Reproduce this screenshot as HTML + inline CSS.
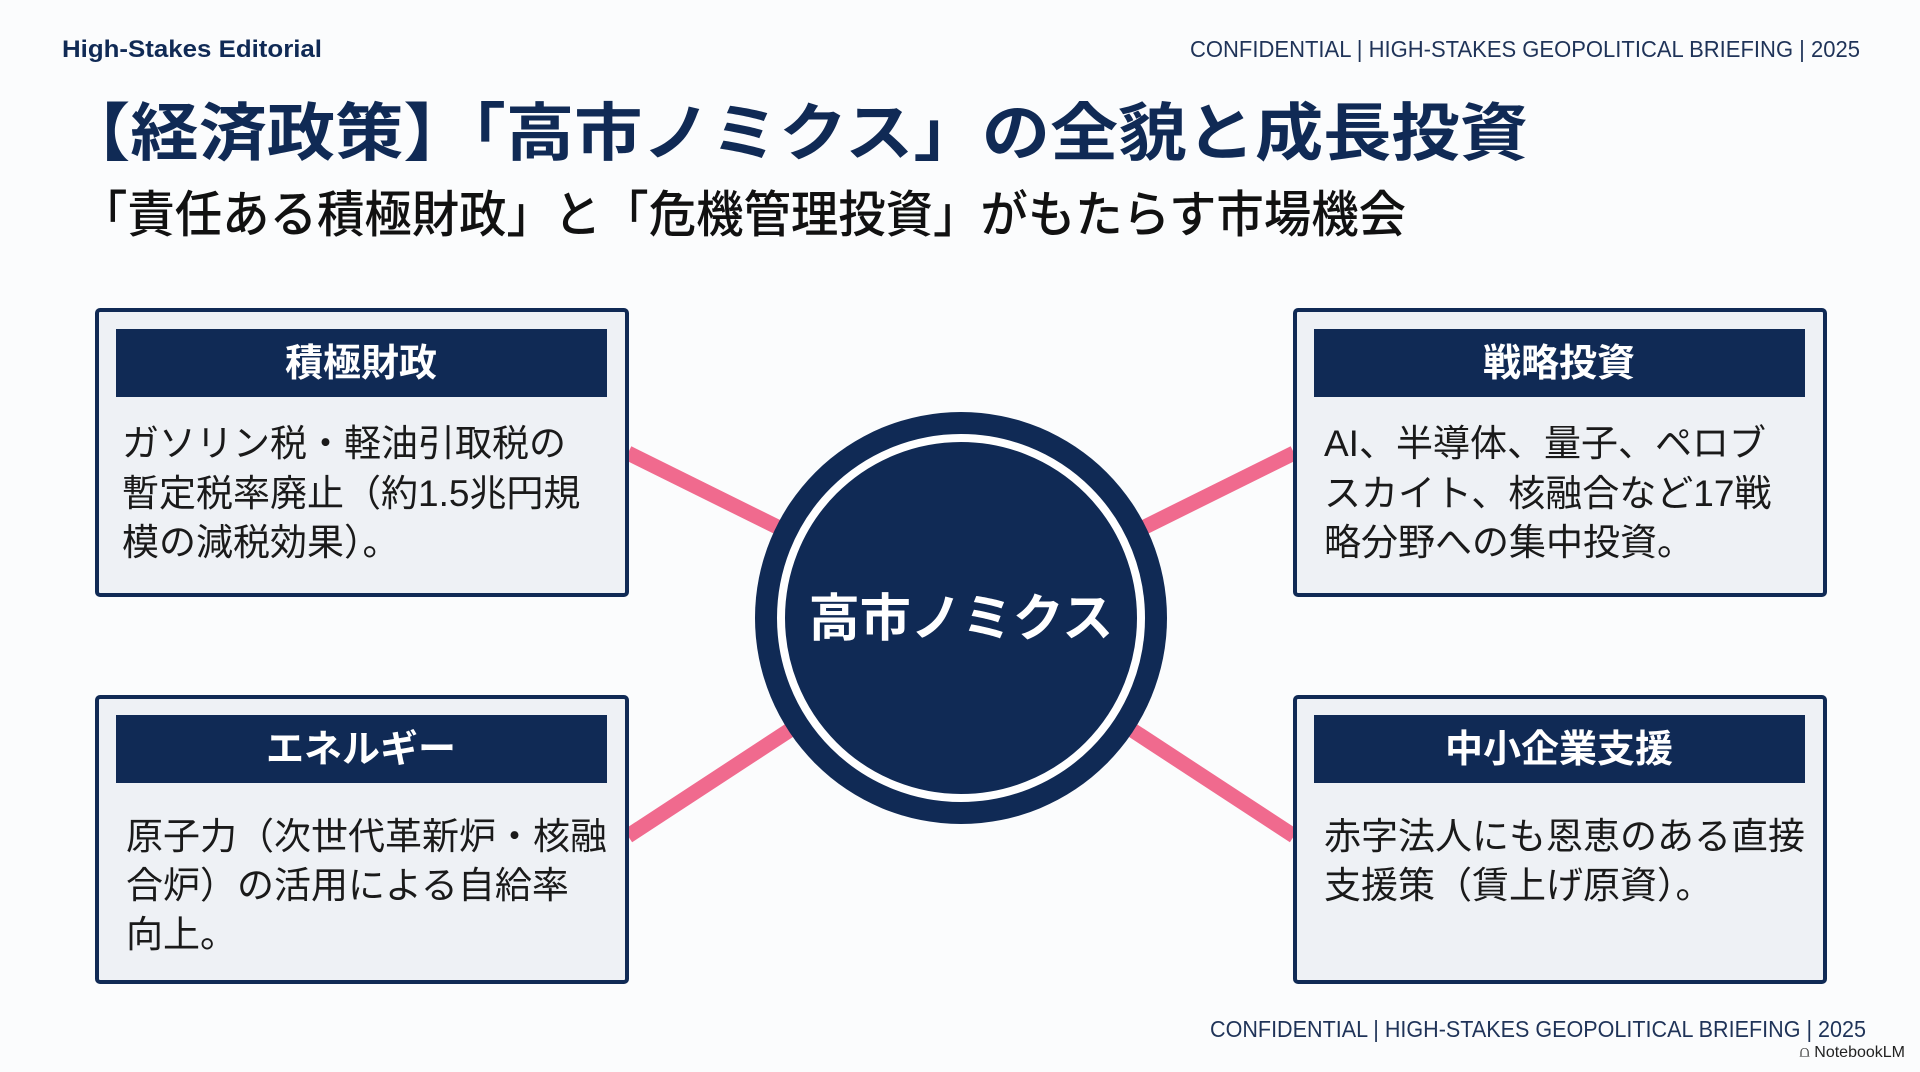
<!DOCTYPE html>
<html><head><meta charset="utf-8"><style>
html,body{margin:0;padding:0;background:#fbfcfd;}
svg{display:block;}
text{font-family:"Liberation Sans","Noto Sans CJK JP",sans-serif;}
</style></head><body>
<svg width="1920" height="1072" viewBox="0 0 1920 1072" xmlns="http://www.w3.org/2000/svg">
<rect width="1920" height="1072" fill="#fbfcfd"/>
<text x="62" y="57" font-size="24" font-weight="bold" fill="#102a55" textLength="260" lengthAdjust="spacingAndGlyphs">High-Stakes Editorial</text>
<text x="1190" y="57" font-size="23" fill="#1f3358" textLength="670" lengthAdjust="spacingAndGlyphs">CONFIDENTIAL | HIGH-STAKES GEOPOLITICAL BRIEFING | 2025</text>
<text x="62" y="155" font-size="63" font-weight="bold" fill="#102a55" textLength="1466" lengthAdjust="spacingAndGlyphs">【経済政策】「高市ノミクス」の全貌と成長投資</text>
<text x="80" y="232" font-size="50" font-weight="500" fill="#111" textLength="1326" lengthAdjust="spacingAndGlyphs">「責任ある積極財政」と「危機管理投資」がもたらす市場機会</text>

<g stroke="#f06a8e" stroke-width="15" stroke-linecap="butt">
<line x1="628" y1="453" x2="961" y2="618"/>
<line x1="1294" y1="453" x2="961" y2="618"/>
<line x1="628" y1="836" x2="961" y2="618"/>
<line x1="1294" y1="836" x2="961" y2="618"/>
</g>

<g stroke="#102a55" stroke-width="4" fill="#eef1f5">
<rect x="97" y="310" width="530" height="285" rx="3"/>
<rect x="1295" y="310" width="530" height="285" rx="3"/>
<rect x="97" y="697" width="530" height="285" rx="3"/>
<rect x="1295" y="697" width="530" height="285" rx="3"/>
</g>
<g fill="#102a55">
<rect x="116" y="329" width="491" height="68"/>
<rect x="1314" y="329" width="491" height="68"/>
<rect x="116" y="715" width="491" height="68"/>
<rect x="1314" y="715" width="491" height="68"/>
</g>
<g font-size="38" font-weight="bold" fill="#fff" text-anchor="middle">
<text x="361" y="376">積極財政</text>
<text x="1559" y="376">戦略投資</text>
<text x="361" y="762">エネルギー</text>
<text x="1559" y="762">中小企業支援</text>
</g>
<g font-size="37" fill="#1a1a1a">
<text x="122" y="456">ガソリン税・軽油引取税の</text>
<text x="122" y="506">暫定税率廃止（約1.5兆円規</text>
<text x="122" y="555">模の減税効果）。</text>
<text x="1324" y="456">AI、半導体、量子、ペロブ</text>
<text x="1324" y="506">スカイト、核融合など17戦</text>
<text x="1324" y="555">略分野への集中投資。</text>
<text x="126" y="849">原子力（次世代革新炉・核融</text>
<text x="126" y="898">合炉）の活用による自給率</text>
<text x="126" y="947">向上。</text>
<text x="1324" y="849">赤字法人にも恩恵のある直接</text>
<text x="1324" y="898">支援策（賃上げ原資）。</text>
</g>

<circle cx="961" cy="618" r="206" fill="#102a55"/>
<circle cx="961" cy="618" r="180" fill="none" stroke="#fff" stroke-width="8"/>
<text x="961" y="636" font-size="51" font-weight="bold" fill="#fff" text-anchor="middle">高市ノミクス</text>

<text x="1210" y="1037" font-size="23" fill="#1f3358" textLength="656" lengthAdjust="spacingAndGlyphs">CONFIDENTIAL | HIGH-STAKES GEOPOLITICAL BRIEFING | 2025</text>
<text x="1905" y="1057" font-size="16" fill="#222" text-anchor="end">⩍ NotebookLM</text>
</svg>
</body></html>
